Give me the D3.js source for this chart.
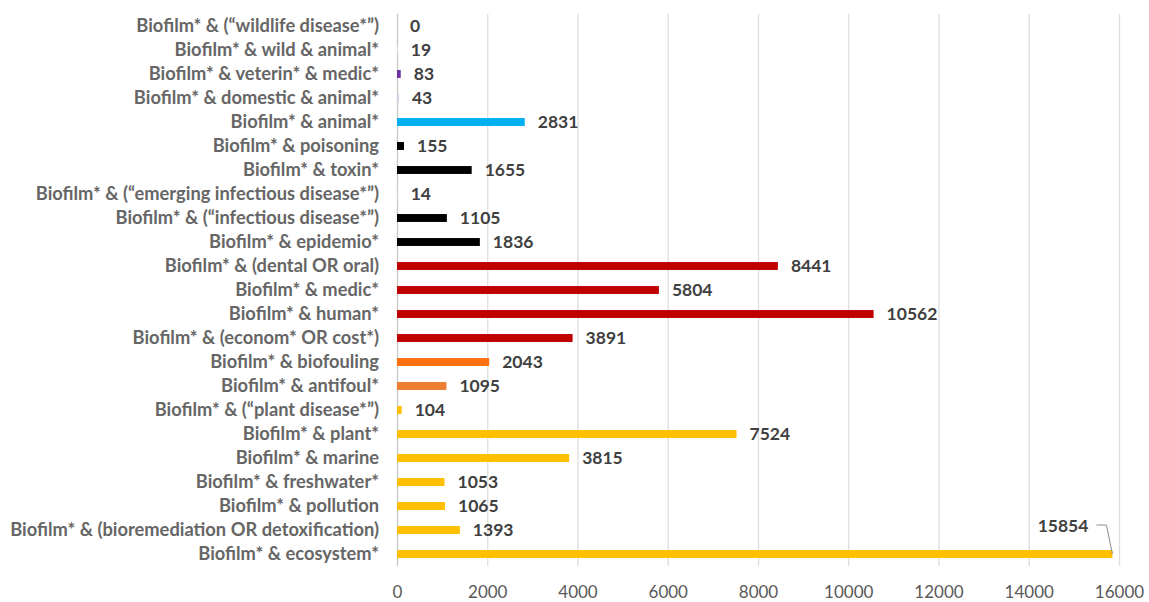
<!DOCTYPE html>
<html>
<head>
<meta charset="utf-8">
<script src="https://cdn.jsdelivr.net/npm/d3@7"></script>
<style>
  body { margin: 0; background: #fff; }
  svg { display: block; font-family: Lato, "Open Sans", sans-serif; }
</style>
</head>
<body>
<svg id="chart" width="1149" height="602"></svg>
<script>
const categories = [
  "Biofilm* & (\u201cwildlife disease*\u201d)",
  "Biofilm* & wild & animal*",
  "Biofilm* & veterin* & medic*",
  "Biofilm* & domestic & animal*",
  "Biofilm* & animal*",
  "Biofilm* & poisoning",
  "Biofilm* & toxin*",
  "Biofilm* & (\u201cemerging infectious disease*\u201d)",
  "Biofilm* & (\u201cinfectious disease*\u201d)",
  "Biofilm* & epidemio*",
  "Biofilm* & (dental OR oral)",
  "Biofilm* & medic*",
  "Biofilm* & human*",
  "Biofilm* & (econom* OR cost*)",
  "Biofilm* & biofouling",
  "Biofilm* & antifoul*",
  "Biofilm* & (\u201cplant disease*\u201d)",
  "Biofilm* & plant*",
  "Biofilm* & marine",
  "Biofilm* & freshwater*",
  "Biofilm* & pollution",
  "Biofilm* & (bioremediation OR detoxification)",
  "Biofilm* & ecosystem*"
];
const values = [0, 19, 83, 43, 2831, 155, 1655, 14, 1105, 1836, 8441, 5804, 10562, 3891, 2043, 1095, 104, 7524, 3815, 1053, 1065, 1393, 15854];
const barColors = [
  "#7030A0", "#E6DDF0", "#7030A0", "#D9CCEA", "#00B0F0",
  "#000000", "#000000", "#E0E0E0", "#000000", "#000000",
  "#C00000", "#C00000", "#C00000", "#C00000",
  "#FF7010", "#ED7D31",
  "#FFC000", "#FFC000", "#FFC000", "#FFC000", "#FFC000", "#FFC000", "#FFC000"
];
const xTicks = [0, 2000, 4000, 6000, 8000, 10000, 12000, 14000, 16000];

const svg = d3.select("#chart");
const margin = { left: 397, right: 30, top: 14, bottom: 36 };
const width = 1149, height = 602;

const x = d3.scaleLinear().domain([0, 16000]).range([margin.left, width - margin.right]);
const y = d3.scaleBand().domain(categories)
  .range([margin.top, height - margin.bottom])
  .paddingInner(0.67).paddingOuter(0.335);

// gridlines
svg.append("g")
  .selectAll("line")
  .data(xTicks)
  .join("line")
  .attr("x1", d => x(d) + 0.5).attr("x2", d => x(d) + 0.5)
  .attr("y1", margin.top).attr("y2", height - margin.bottom)
  .attr("stroke", d => d === 0 ? "#c8c8c8" : "#dedede")
  .attr("stroke-width", 1.3);

// x axis labels
const xAxis = svg.append("g")
  .attr("transform", `translate(0,${height - margin.bottom})`)
  .call(d3.axisBottom(x).tickValues(xTicks).tickFormat(d3.format("d")).tickSize(0).tickPadding(20));
xAxis.select(".domain").remove();
xAxis.selectAll("text")
  .attr("fill", "#595959")
  .style("font-size", "17px")
  .style("font-family", "Lato, sans-serif");

// bars
svg.append("g")
  .selectAll("rect")
  .data(values)
  .join("rect")
  .attr("x", x(0))
  .attr("y", (d, i) => y(categories[i]))
  .attr("width", d => x(d) - x(0))
  .attr("height", y.bandwidth())
  .attr("fill", (d, i) => barColors[i]);

// category labels
const catLabels = svg.append("g")
  .selectAll("text")
  .data(categories)
  .join("text")
  .attr("x", x(0) - 18)
  .attr("y", d => y(d) + y.bandwidth() / 2)
  .attr("dy", "0.35em")
  .attr("text-anchor", "end")
  .attr("fill", "#666666")
  .style("font-size", "16px")
  .style("font-weight", "bold")
  .text(d => d);

// fit the label font to the original width of the longest label
let longest = 0;
catLabels.each(function() { longest = Math.max(longest, this.getComputedTextLength()); });
catLabels.style("font-size", (16 * 369 / longest) + "px");

// value labels
const last = values.length - 1;
svg.append("g")
  .selectAll("text")
  .data(values)
  .join("text")
  .attr("x", (d, i) => i === last ? x(d) - 24 : x(d) + 13)
  .attr("y", (d, i) => y(categories[i]) + y.bandwidth() / 2 - (i === last ? 28 : 0))
  .attr("dy", "0.35em")
  .attr("text-anchor", (d, i) => i === last ? "end" : "start")
  .attr("fill", "#404040")
  .style("font-size", "17.5px")
  .style("font-weight", "bold")
  .text(d => d);

// leader line for the largest value
const lv = values[last];
const ly = y(categories[last]) + y.bandwidth() / 2;
svg.append("path")
  .attr("d", `M${x(lv) - 16},${ly - 29}H${x(lv) - 6}L${x(lv)},${ly}`)
  .attr("fill", "none")
  .attr("stroke", "#8c8c8c")
  .attr("stroke-width", 1);
</script>
</body>
</html>
